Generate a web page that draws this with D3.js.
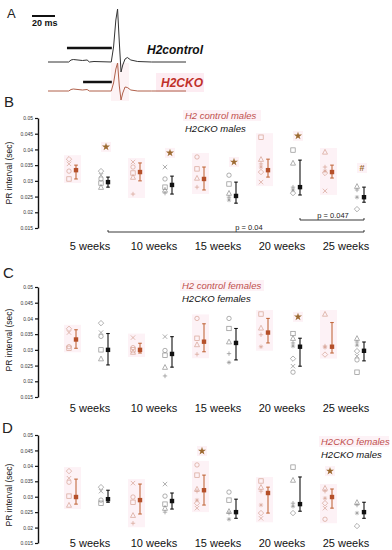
<!DOCTYPE html>
<html><head><meta charset="utf-8">
<script src="https://cdn.jsdelivr.net/npm/d3@7"></script>
<style>body{margin:0;background:#fff}svg{display:block;font-family:"Liberation Sans",Arial,sans-serif}</style>
</head><body>
<svg id="c" width="392" height="550"></svg>
<script>
// ---------- DATA ----------
const weeks = ["5 weeks","10 weeks","15 weeks","20 weeks","25 weeks"];
const yTicks = [0.015,0.02,0.025,0.03,0.035,0.04,0.045,0.05];
const shapes = ["diamond","cross","circle","square","triangle","plus","asterisk"];

// Panel A traces (time in ms, amplitude in arbitrary units)
const traceTime = [0,18,20,22,30,34,36,40,55,57,59,60.5,62,63.5,65,67,69,72,78,90,120];
const traceCtrl = [0,0,0.2,0.25,0.15,0.2,0,0.05,0,1.5,4.2,5.3,2,-1.0,-0.3,0.3,0.45,0.2,0.05,0,0];
const traceCKO  = [0,0,0.15,0.2,0.1,0.15,0,0,0,0.8,2.2,2.8,0.5,-0.9,-0.2,0.4,0.35,0.1,0,0,0];

// Panel B: H2 control males (red) vs H2CKO males (black)
const bRedMean = [0.0334,0.0328,0.0306,0.0334,0.0328];
const bRedLo   = [0.0306,0.0300,0.0271,0.0312,0.0309];
const bRedHi   = [0.0350,0.0357,0.0344,0.0369,0.0350];
const bRedPts  = [[0.0369,0.0354,0.0331,0.0306],[0.0360,0.0344,0.0325,0.0312,0.0258],[0.0376,0.0338,0.0309,0.0280],[0.0439,0.0369,0.0354,0.0344,0.0328,0.0296],[0.0392,0.0344,0.0331,0.0325,0.0268]];
const bBlkMean = [0.0296,0.0287,0.0252,0.0280,0.0248];
const bBlkLo   = [0.0280,0.0258,0.0229,0.0255,0.0232];
const bBlkHi   = [0.0312,0.0315,0.0296,0.0366,0.0280];
const bBlkPts  = [[0.0331,0.0318,0.0306,0.0293,0.0280],[0.0344,0.0306,0.0280,0.0271,0.0261],[0.0318,0.0290,0.0261,0.0248,0.0239],[0.0398,0.0357,0.0280,0.0271,0.0261],[0.0283,0.0271,0.0248,0.0210]];
const bSig = [{w:0,v:0.0408,m:"*"},{w:1,v:0.0389,m:"*"},{w:2,v:0.0360,m:"*"},{w:3,v:0.0443,m:"*"},{w:4,v:0.0341,m:"#"}];

// Panel C: H2 control females (red) vs H2CKO females (black)
const cRedMean = [0.0333,0.0300,0.0326,0.0355,0.0310];
const cRedLo   = [0.0305,0.0290,0.0294,0.0322,0.0290];
const cRedHi   = [0.0364,0.0321,0.0383,0.0400,0.0387];
const cRedPts  = [[0.0367,0.0355,0.0310,0.0305],[0.0339,0.0307,0.0300,0.0293],[0.0400,0.0337,0.0317,0.0286],[0.0414,0.0370,0.0348,0.0310],[0.0414,0.0312,0.0308,0.0285]];
const cBlkMean = [0.0300,0.0287,0.0322,0.0310,0.0297];
const cBlkLo   = [0.0252,0.0245,0.0268,0.0248,0.0265];
const cBlkHi   = [0.0352,0.0342,0.0368,0.0337,0.0325];
const cBlkPts  = [[0.0385,0.0355,0.0343,0.0300,0.0272],[0.0342,0.0298,0.0283,0.0245,0.0217],[0.0400,0.0368,0.0326,0.0288,0.0260],[0.0352,0.0337,0.0322,0.0312,0.0272,0.0248,0.0229],[0.0337,0.0325,0.0315,0.0296,0.0280,0.0268,0.0229]];
const cSig = [{w:3,v:0.0405,m:"*"}];

// Panel D: H2CKO females (red) vs H2CKO males (black)
const dRedMean = [0.0299,0.0289,0.0321,0.0312,0.0299];
const dRedLo   = [0.0276,0.0244,0.0273,0.0247,0.0263];
const dRedHi   = [0.0357,0.0341,0.0370,0.0331,0.0325];
const dRedPts  = [[0.0383,0.0360,0.0347,0.0302,0.0273],[0.0344,0.0299,0.0282,0.0240,0.0214],[0.0403,0.0370,0.0325,0.0318,0.0289,0.0279,0.0263],[0.0351,0.0331,0.0318,0.0273,0.0247,0.0230],[0.0328,0.0318,0.0295,0.0279,0.0263,0.0227]];
const dBlkMean = [0.0292,0.0286,0.0250,0.0276,0.0250];
const dBlkLo   = [0.0282,0.0260,0.0230,0.0253,0.0230];
const dBlkHi   = [0.0321,0.0312,0.0292,0.0364,0.0282];
const dBlkPts  = [[0.0331,0.0318,0.0289,0.0279],[0.0341,0.0302,0.0276,0.0263,0.0250],[0.0315,0.0289,0.0253,0.0247,0.0227],[0.0396,0.0354,0.0279,0.0269,0.0247],[0.0282,0.0273,0.0247,0.0205]];
const dSig = [{w:2,v:0.0448,m:"*",red:true},{w:4,v:0.0383,m:"*",red:true}];

// ---------- DRAW ----------
const svg = d3.select("#c");
svg.append("rect").attr("width",392).attr("height",550).attr("fill","#fff");
const RED="#b5502a", REDBAR="#c26a3e", REDPT="#d6a293", GRAYPT="#8e8e8e", PINK="#fdf2f6", SIG="#9c6a30";

// panel letters
[["A",7,18,13],["B",4,107,15],["C",3,278,15],["D",2,433,15]].forEach(([t,x,y,s])=>
  svg.append("text").attr("x",x).attr("y",y).attr("font-size",s).attr("fill","#222").text(t));

// ---- Panel A ----
const ax = d3.scaleLinear().domain([0,20]).range([48,71]);
const ayC = d3.scaleLinear().domain([0,1]).range([62,52]);
const ayK = d3.scaleLinear().domain([0,1]).range([91,81]);
svg.append("rect").attr("x",111).attr("y",63).attr("width",18).attr("height",38).attr("fill","#fdf3f5");
svg.append("rect").attr("x",156).attr("y",73).attr("width",48).attr("height",19).attr("fill","#fdecf2");
svg.append("line").attr("x1",32).attr("x2",55).attr("y1",16).attr("y2",16).attr("stroke","#111").attr("stroke-width",2);
svg.append("text").attr("x",32).attr("y",26).attr("font-size",9).attr("font-weight","bold").attr("fill","#111").text("20 ms");
svg.append("line").attr("x1",ax(16.5)).attr("x2",ax(55.5)).attr("y1",48).attr("y2",48).attr("stroke","#111").attr("stroke-width",2.5);
svg.append("line").attr("x1",ax(30.5)).attr("x2",ax(55.5)).attr("y1",82).attr("y2",82).attr("stroke","#111").attr("stroke-width",2.5);
const lineC = d3.line().x((d,i)=>ax(traceTime[i])).y(d=>ayC(d));
const lineK = d3.line().x((d,i)=>ax(traceTime[i])).y(d=>ayK(d));
svg.append("path").attr("d",lineC(traceCtrl)).attr("fill","none").attr("stroke","#333").attr("stroke-width",1);
svg.append("path").attr("d",lineK(traceCKO)).attr("fill","none").attr("stroke","#b0604a").attr("stroke-width",1);
svg.append("text").attr("x",147).attr("y",54).attr("font-size",12).attr("font-weight","bold").attr("font-style","italic").attr("fill","#111").text("H2control");
svg.append("text").attr("x",161).attr("y",87).attr("font-size",12).attr("font-weight","bold").attr("font-style","italic").attr("fill","#c0302a").text("H2CKO");

// ---- marker helper ----
function marker(g,type,x,y,col){
  const r=2.2;
  if(type==="circle") g.append("circle").attr("cx",x).attr("cy",y).attr("r",r).attr("fill","none").attr("stroke",col).attr("stroke-width",0.7);
  else if(type==="square") g.append("rect").attr("x",x-r).attr("y",y-r).attr("width",2*r).attr("height",2*r).attr("fill","none").attr("stroke",col).attr("stroke-width",0.7);
  else if(type==="triangle") g.append("path").attr("d",`M${x},${y-r-0.4}L${x+r+0.3},${y+r}L${x-r-0.3},${y+r}Z`).attr("fill","none").attr("stroke",col).attr("stroke-width",0.7);
  else if(type==="diamond") g.append("path").attr("d",`M${x},${y-r-0.5}L${x+r+0.5},${y}L${x},${y+r+0.5}L${x-r-0.5},${y}Z`).attr("fill","none").attr("stroke",col).attr("stroke-width",0.7);
  else if(type==="cross") g.append("path").attr("d",`M${x-r},${y-r}L${x+r},${y+r}M${x-r},${y+r}L${x+r},${y-r}`).attr("stroke",col).attr("stroke-width",0.7);
  else if(type==="plus") g.append("path").attr("d",`M${x-r},${y}L${x+r},${y}M${x},${y-r}L${x},${y+r}`).attr("stroke",col).attr("stroke-width",0.7);
  else g.append("path").attr("d",`M${x-r},${y}L${x+r},${y}M${x},${y-r}L${x},${y+r}M${x-r*0.7},${y-r*0.7}L${x+r*0.7},${y+r*0.7}M${x-r*0.7},${y+r*0.7}L${x+r*0.7},${y-r*0.7}`).attr("stroke",col).attr("stroke-width",0.6);
}

function panel(cfg){
  const y = d3.scaleLinear().domain([0.015,0.05]).range([cfg.bottom,cfg.top]);
  const x = d3.scalePoint().domain(weeks).range([92,348]);
  const g = svg.append("g");
  const axis = g.append("g").attr("transform","translate(38,0)")
    .call(d3.axisLeft(y).tickValues(yTicks).tickSize(3).tickSizeOuter(0).tickPadding(2).tickFormat(d=>String(+d.toFixed(3))));
  axis.select(".domain").attr("stroke","#111").attr("stroke-width",1.4);
  axis.selectAll(".tick line").attr("stroke","#111").attr("stroke-width",1.2);
  axis.selectAll("text").attr("font-size",5).attr("fill","#333").attr("font-family","Liberation Sans, Arial, sans-serif");
  g.append("text").attr("transform",`translate(12,${cfg.labelY}) rotate(-90)`).attr("text-anchor","middle")
    .attr("font-size",8.5).attr("fill","#222").text("PR interval (sec)");
  weeks.forEach(w=>g.append("text").attr("x",x(w)-2).attr("y",cfg.xLabY).attr("text-anchor","middle")
    .attr("font-size",11).attr("fill","#111").text(w));
  const groups=[{mean:cfg.redMean,lo:cfg.redLo,hi:cfg.redHi,pts:cfg.redPts,off:-16,red:true},
                {mean:cfg.blkMean,lo:cfg.blkLo,hi:cfg.blkHi,pts:cfg.blkPts,off:16,red:false}];
  groups.forEach(G=>{
    weeks.forEach((w,i)=>{
      const mx=x(w)+G.off, px=mx-7;
      if(G.red){
        const ys=G.pts[i].map(v=>y(v)).concat([y(G.hi[i]),y(G.lo[i])]);
        g.append("rect").attr("x",px-5).attr("y",d3.min(ys)-4).attr("width",17).attr("height",d3.max(ys)-d3.min(ys)+8).attr("fill",PINK);
      }
      G.pts[i].forEach((v,j)=>marker(g,shapes[(j+i)%shapes.length],px,y(v),G.red?REDPT:GRAYPT));
      const bc=G.red?REDBAR:"#111";
      g.append("line").attr("x1",mx).attr("x2",mx).attr("y1",y(G.hi[i])).attr("y2",y(G.lo[i])).attr("stroke",bc).attr("stroke-width",1.1);
      [G.hi[i],G.lo[i]].forEach(v=>g.append("line").attr("x1",mx-1.8).attr("x2",mx+1.8).attr("y1",y(v)).attr("y2",y(v)).attr("stroke",bc).attr("stroke-width",1.1));
      g.append("rect").attr("x",mx-2.2).attr("y",y(G.mean[i])-2.2).attr("width",4.4).attr("height",4.4).attr("fill",G.red?RED:"#111");
    });
  });
  cfg.sig.forEach(s=>{
    const sx=x(weeks[s.w])+(s.red?-18:14), sy=y(s.v);
    g.append("rect").attr("x",sx-5).attr("y",sy-5).attr("width",10).attr("height",10).attr("fill",PINK);
    if(s.m==="*") g.append("path").attr("d",d3.symbol(d3.symbolStar,20)()).attr("transform",`translate(${sx},${sy})`).attr("fill",SIG);
    else g.append("text").attr("x",sx).attr("y",sy+3.5).attr("text-anchor","middle").attr("font-size",9).attr("font-weight","bold").attr("fill",SIG).text("#");
  });
  g.append("rect").attr("x",cfg.legX-2).attr("y",cfg.legY-9).attr("width",cfg.legW).attr("height",11).attr("fill",PINK);
  g.append("text").attr("x",cfg.legX).attr("y",cfg.legY).attr("font-size",9.5).attr("font-style","italic").attr("fill","#c0504d").text(cfg.leg1);
  g.append("text").attr("x",cfg.legX).attr("y",cfg.legY+13).attr("font-size",9.5).attr("font-style","italic").attr("fill","#111").text(cfg.leg2);
  return {x,y,g};
}

const B = panel({top:118,bottom:228,labelY:173,xLabY:250,redMean:bRedMean,redLo:bRedLo,redHi:bRedHi,redPts:bRedPts,
  blkMean:bBlkMean,blkLo:bBlkLo,blkHi:bBlkHi,blkPts:bBlkPts,sig:bSig,legX:185,legY:119,legW:78,leg1:"H2 control males",leg2:"H2CKO males"});
panel({top:287,bottom:397,labelY:340,xLabY:412,redMean:cRedMean,redLo:cRedLo,redHi:cRedHi,redPts:cRedPts,
  blkMean:cBlkMean,blkLo:cBlkLo,blkHi:cBlkHi,blkPts:cBlkPts,sig:cSig,legX:182,legY:289,legW:84,leg1:"H2 control females",leg2:"H2CKO females"});
panel({top:435,bottom:543,labelY:495,xLabY:547,redMean:dRedMean,redLo:dRedLo,redHi:dRedHi,redPts:dRedPts,
  blkMean:dBlkMean,blkLo:dBlkLo,blkHi:dBlkHi,blkPts:dBlkPts,sig:dSig,legX:321,legY:445,legW:70,leg1:"H2CKO females",leg2:"H2CKO males"});

const pBr=[{a:3,b:4,yy:220,t:"p = 0.047",tx:333},{a:0,b:4,yy:232,t:"p = 0.04",tx:249}];
pBr.forEach(p=>{
  const x1=B.x(weeks[p.a])+16, x2=B.x(weeks[p.b])+16;
  B.g.append("path").attr("d",`M${x1},${p.yy-2}L${x1},${p.yy}L${x2},${p.yy}L${x2},${p.yy-2}`).attr("fill","none").attr("stroke","#222").attr("stroke-width",0.9);
  B.g.append("text").attr("x",p.tx).attr("y",p.yy-2).attr("text-anchor","middle").attr("font-size",7.5).attr("fill","#222").text(p.t);
});
</script>
</body></html>
